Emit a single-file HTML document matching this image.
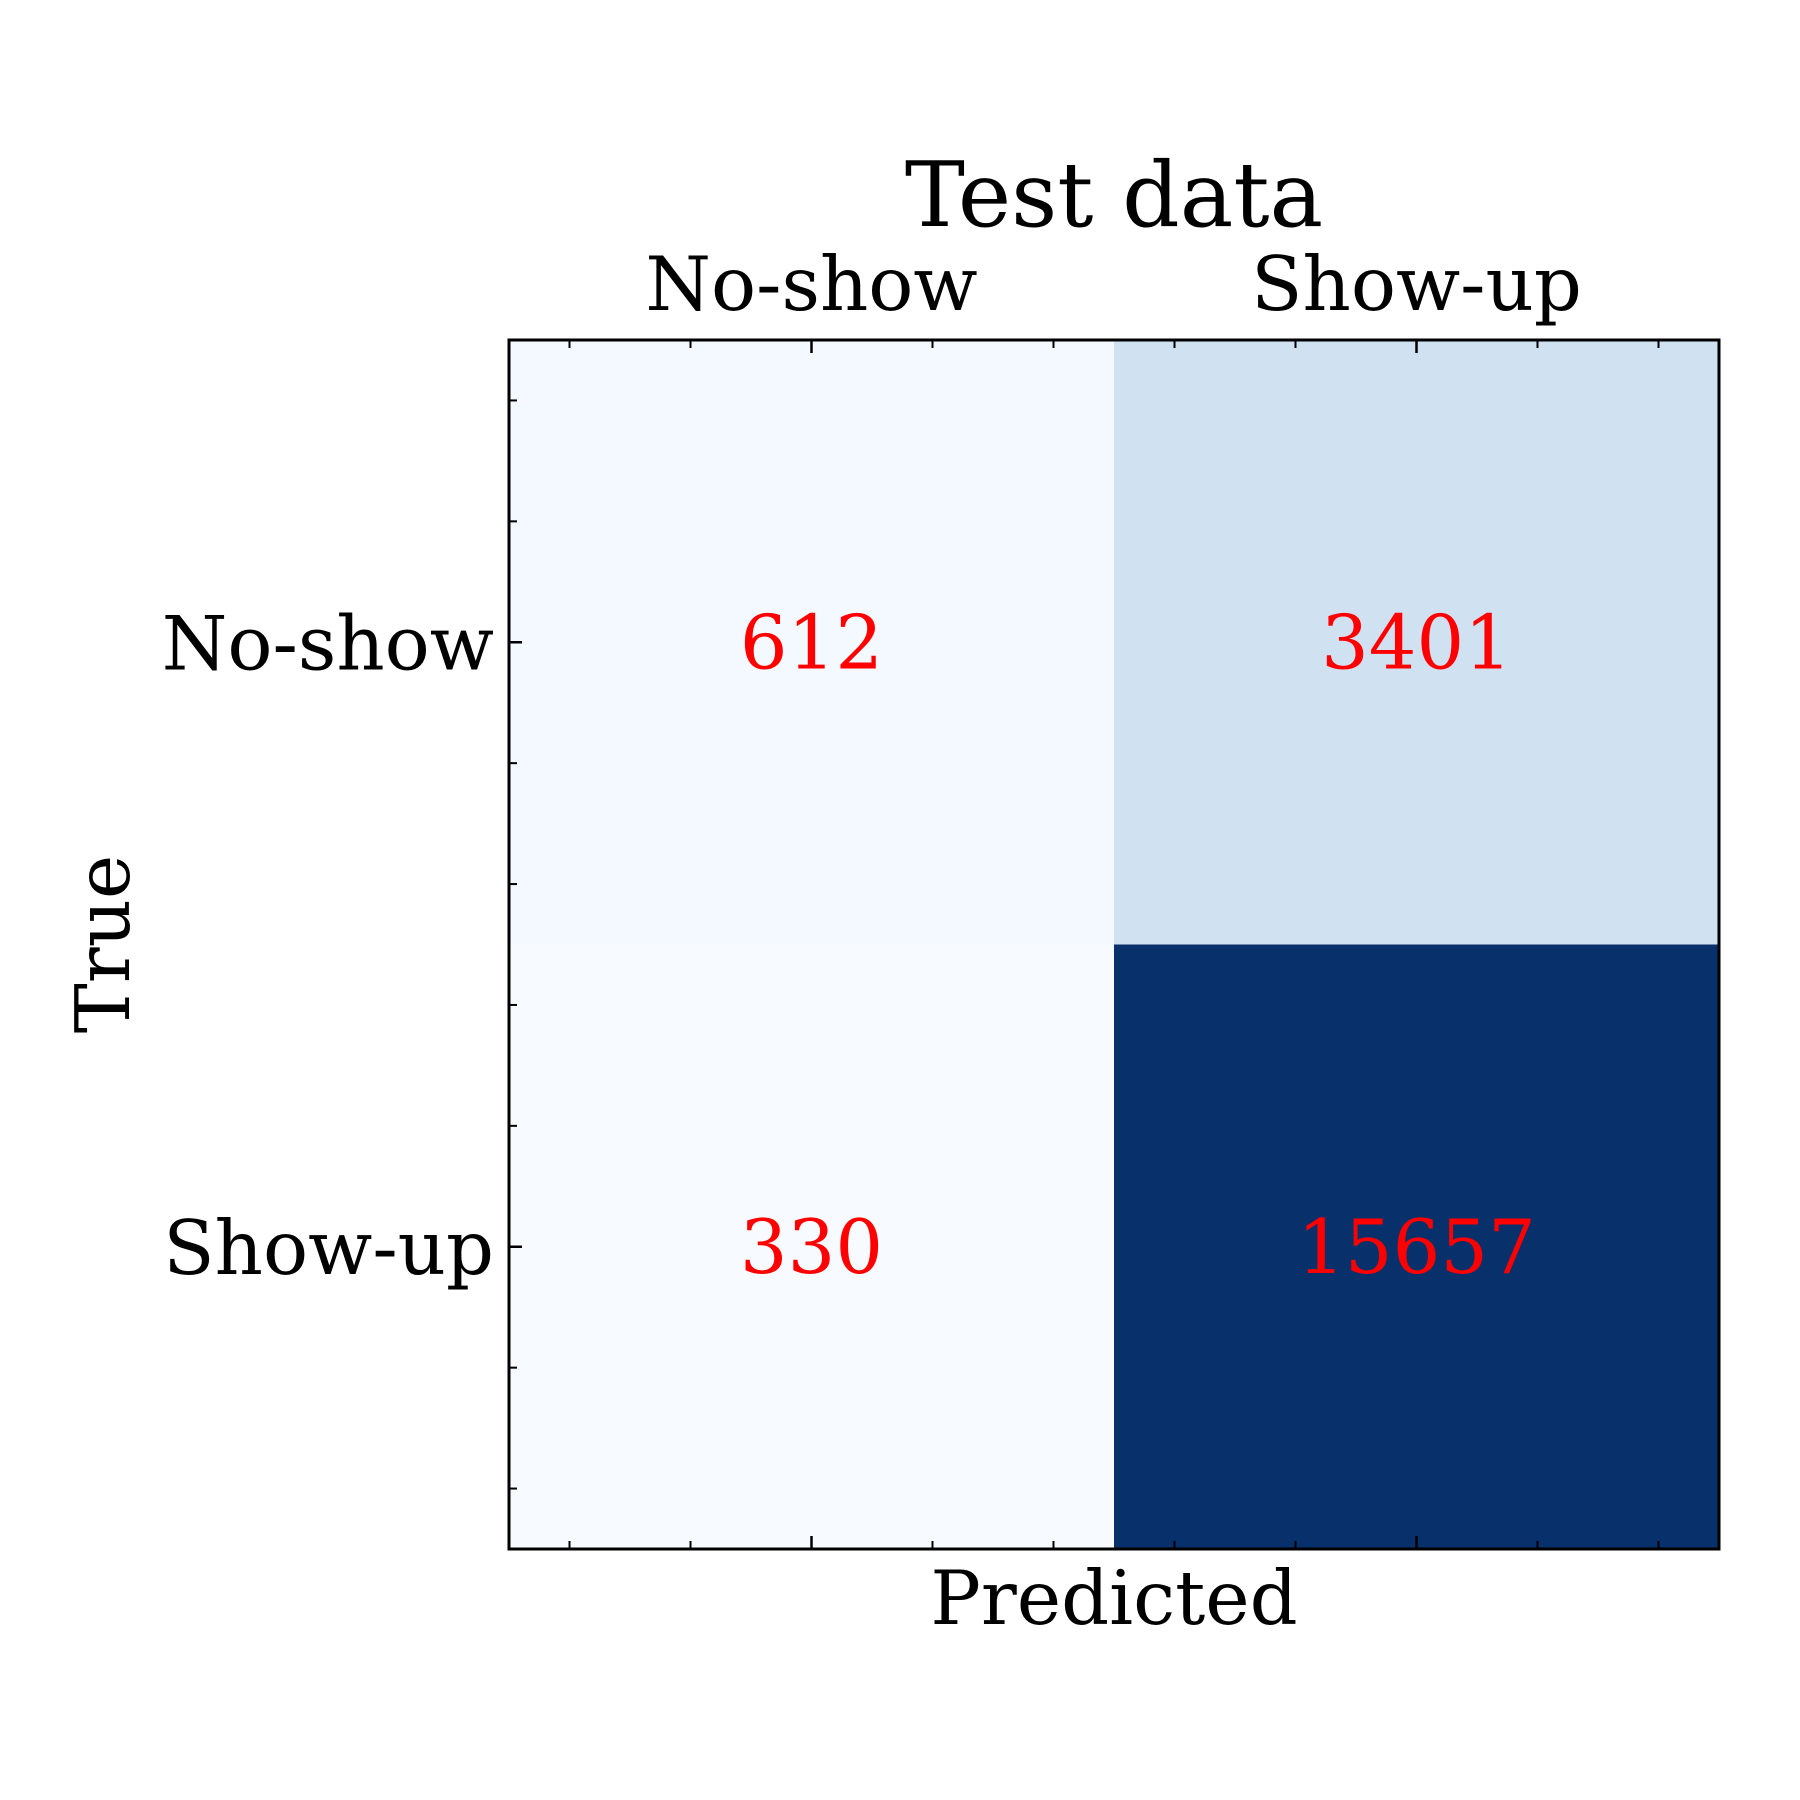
<!DOCTYPE html>
<html><head><meta charset="utf-8"><style>
html,body{margin:0;padding:0;background:#fff;}
svg{display:block;font-family:"DejaVu Serif","Liberation Serif",serif;}
</style></head><body>
<svg id="chart" width="1800" height="1800" viewBox="0 0 1800 1800" xmlns="http://www.w3.org/2000/svg"></svg>
<script>
const predictedLabels = ["No-show", "Show-up"];
const trueLabels = ["No-show", "Show-up"];
const row0 = [612, 3401];
const row1 = [330, 15657];
const matrix = [row0, row1];

const NS = "http://www.w3.org/2000/svg";
const svg = document.getElementById("chart");
const L = 509, T = 340, W = 1210, H = 1209;
const n = predictedLabels.length;
const xPos = c => L + (c + 0.5) * W / n;
const yPos = r => T + (r + 0.5) * H / n;
const blues = [[247,251,255],[222,235,247],[198,219,239],[158,202,225],[107,174,214],[66,146,198],[33,113,181],[8,81,156],[8,48,107]];
function cmap(t){t=Math.max(0,Math.min(1,t));const p=t*(blues.length-1);const i=Math.min(Math.floor(p),blues.length-2);const f=p-i;
  const c=blues[i].map((v,k)=>Math.round(v+(blues[i+1][k]-v)*f));return `rgb(${c[0]},${c[1]},${c[2]})`;}
function mk(tag, attrs, text){const e=document.createElementNS(NS,tag);for(const k in attrs)e.setAttribute(k,attrs[k]);if(text!==undefined)e.textContent=text;svg.appendChild(e);return e;}
const all = matrix.flat();
const vmin = Math.min(...all), vmax = Math.max(...all);

for (let r = 0; r < n; r++) for (let c = 0; c < n; c++) {
  const v = matrix[r][c];
  const cell = mk("rect", {x: L + c*W/n, y: T + r*H/n, width: W/n + 0.5, height: H/n + 0.5, fill: cmap((v - vmin)/(vmax - vmin))});
  
  
  const t = mk("text", {x: xPos(c), y: yPos(r) + 26, "text-anchor": "middle", "font-size": 75, fill: "#ff0000"}, String(v));
  
  
}
// minor ticks at data -0.4, -0.2, ... (fractions 0.05 + 0.1k)
for (let i = 0; i < 10; i++) {
  if (i === 2 || i === 7) continue;
  const x = L + (0.05 + 0.1*i)*W, y = T + (0.05 + 0.1*i)*H;
  [[x,T,x,T+8],[x,T+H,x,T+H-8],[L,y,L+8,y]].forEach(a=>{
    const m = mk("line",{x1:a[0],y1:a[1],x2:a[2],y2:a[3],stroke:"#000","stroke-width":2});
    
    
  });
}
for (let i = 0; i < n; i++) {
  const x = xPos(i), y = yPos(i);
  [[x,T,x,T+13],[x,T+H,x,T+H-13],[L,y,L+13,y]].forEach(a=>{
    const m = mk("line",{x1:a[0],y1:a[1],x2:a[2],y2:a[3],stroke:"#000","stroke-width":2.5});
    
    
  });
  const xl = mk("text",{x:x,y:310,"text-anchor":"middle","font-size":75}, predictedLabels[i]);
  
  
  const yl = mk("text",{x:494,y:y+27,"text-anchor":"end","font-size":75}, trueLabels[i]);
  
  
}
const frame = mk("rect",{x:L,y:T,width:W,height:H,fill:"none",stroke:"#000","stroke-width":3});


const title = mk("text",{x:L+W/2,y:226,"text-anchor":"middle","font-size":90},"Test data");


const xt = mk("text",{x:L+W/2,y:1624,"text-anchor":"middle","font-size":75},"Predicted");


const yt = mk("text",{x:0,y:0,"text-anchor":"middle","font-size":75,transform:"translate(129,944) rotate(-90)"},"True");


</script>
</body></html>
